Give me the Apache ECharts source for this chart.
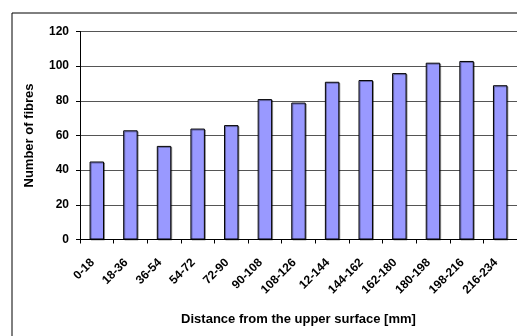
<!DOCTYPE html>
<html><head><meta charset="utf-8">
<script src="https://cdn.jsdelivr.net/npm/echarts@6/dist/echarts.min.js"></script>
<style>html,body{margin:0;padding:0;background:#fff}#c{width:517px;height:336px}</style>
</head><body><div id="c"></div>
<script>
var categories = ['0-18','18-36','36-54','54-72','72-90','90-108','108-126','12-144','144-162','162-180','180-198','198-216','216-234'];
var fibres = [45, 63, 54, 64, 66, 81, 79, 91, 92, 96, 102, 103, 89];
var yTicks = {min: 0, max: 120, interval: 20};
var font = 'Liberation Sans, Arial, sans-serif';
var chart = echarts.init(document.getElementById('c'), null, {renderer: 'canvas'});
chart.setOption({
  animation: false,
  backgroundColor: '#fff',
  graphic: [{type: 'rect', left: 9.5, top: 10.5, shape: {width: 600, height: 400}, style: {fill: 'none', stroke: '#000', lineWidth: 1}, z: -1}],
  grid: {left: 80, top: 31.5, right: -2.5, bottom: 96.5, containLabel: false},
  xAxis: {
    type: 'category', data: categories,
    axisLine: {lineStyle: {color: '#000', width: 1}},
    axisTick: {show: true, alignWithLabel: false, length: 4, lineStyle: {color: '#000'}},
    axisLabel: {rotate: 45, fontFamily: font, fontWeight: 'bold', fontSize: 12, color: '#000', margin: 17, padding: [0, 6, 0, 0], interval: 0},
    name: 'Distance from the upper surface [mm]', nameLocation: 'middle', nameGap: 73,
    nameTextStyle: {fontFamily: font, fontWeight: 'bold', fontSize: 13, color: '#000'}
  },
  yAxis: {
    type: 'value', min: yTicks.min, max: yTicks.max, interval: yTicks.interval,
    axisLine: {show: true, lineStyle: {color: '#000'}},
    axisTick: {show: true, length: 4, lineStyle: {color: '#000'}},
    axisLabel: {fontFamily: font, fontWeight: 'bold', fontSize: 12, color: '#000', margin: 11},
    splitLine: {lineStyle: {color: '#555', width: 1}},
    name: 'Number of fibres', nameLocation: 'middle', nameGap: 44,
    nameTextStyle: {fontFamily: font, fontWeight: 'bold', fontSize: 13, color: '#000'}
  },
  series: [{
    type: 'bar', data: fibres, barWidth: '43%',
    itemStyle: {color: '#9999FF', borderColor: '#000', borderWidth: 1,
      shadowColor: 'rgba(0,0,0,0.35)', shadowOffsetX: 1, shadowOffsetY: 1}
  }]
});
</script></body></html>
